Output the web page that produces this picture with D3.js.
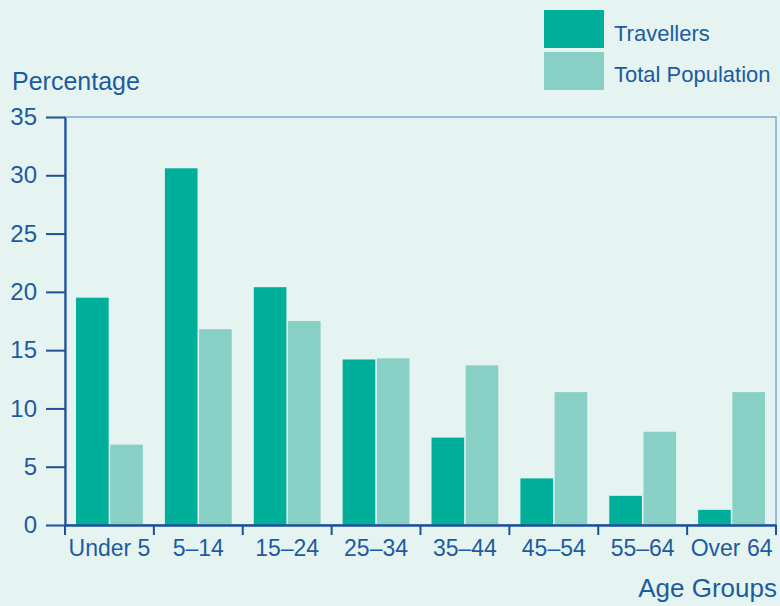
<!DOCTYPE html>
<html>
<head>
<meta charset="utf-8">
<script src="https://cdn.jsdelivr.net/npm/d3@7"></script>
<style>
  body { margin: 0; background: #e5f4f1; }
  svg text { font-family: "Liberation Sans", Arial, sans-serif; fill: #1d5ba0; }
</style>
</head>
<body>
<div id="chart"></div>
<script>
// data
const ageGroups = ["Under 5", "5\u201314", "15\u201324", "25\u201334", "35\u201344", "45\u201354", "55\u201364", "Over 64"];
const travellers = [19.5, 30.6, 20.4, 14.2, 7.5, 4.0, 2.5, 1.3];
const totalPopulation = [6.9, 16.8, 17.5, 14.3, 13.7, 11.4, 8.0, 11.4];
const seriesNames = ["Travellers", "Total Population"];
const yTicks = [0, 5, 10, 15, 20, 25, 30, 35];

const colors = ["#00af9a", "#88d0c6"];

// set the dimensions and margins of the graph
const margin = { top: 117, right: 4, bottom: 81, left: 65 },
    width = 780 - margin.left - margin.right,
    height = 606 - margin.top - margin.bottom;

const svg = d3.select("#chart")
    .append("svg")
    .attr("width", 780)
    .attr("height", 606);

svg.append("rect").attr("width", 780).attr("height", 606).attr("fill", "#e5f4f1");

const g = svg.append("g")
    .attr("transform", `translate(${margin.left},${margin.top})`);

const data = ageGroups.map((a, i) => ({ group: a, values: [travellers[i], totalPopulation[i]] }));

// scales
const x0 = d3.scaleBand().domain(ageGroups).range([0, width]).padding(0);
const x1 = d3.scaleBand().domain(seriesNames)
    .range([x0.bandwidth() * 0.124, x0.bandwidth() * 0.876])
    .paddingInner(0.045);
const y = d3.scaleLinear().domain([0, 35]).range([height, 0]);

// frame (top & right, lighter)
g.append("rect")
    .attr("x", 0).attr("y", 0)
    .attr("width", width).attr("height", height)
    .attr("fill", "none")
    .attr("stroke", "#7fa8d4")
    .attr("stroke-width", 1.5);

// bars
const groups = g.selectAll(".grp")
    .data(data)
    .enter().append("g")
    .attr("transform", d => `translate(${x0(d.group)},0)`);

groups.selectAll("rect")
    .data(d => d.values.map((v, i) => ({ key: seriesNames[i], v: v, i: i })))
    .enter().append("rect")
    .attr("x", d => x1(d.key))
    .attr("width", x1.bandwidth())
    .attr("y", d => y(d.v))
    .attr("height", d => y(0) - y(d.v))
    .attr("fill", d => colors[d.i]);

// Y axis
const yAxis = g.append("g")
    .call(d3.axisLeft(y).tickValues(yTicks).tickSize(19).tickPadding(9).tickSizeOuter(0));
yAxis.select(".domain").attr("stroke", "#1f4f99").attr("stroke-width", 2.2);
yAxis.selectAll(".tick line").attr("stroke", "#1f4f99").attr("stroke-width", 2);
yAxis.selectAll(".tick text").attr("font-size", 24).attr("fill", "#1d5ba0");

// X axis (ticks on group boundaries)
const xAxis = g.append("g")
    .attr("transform", `translate(0,${height})`)
    .call(d3.axisBottom(x0).tickSize(0).tickPadding(15));
xAxis.select(".domain").attr("stroke", "#1f4f99").attr("stroke-width", 2.5);
xAxis.selectAll(".tick text").attr("font-size", 23).attr("fill", "#1d5ba0");

const bounds = ageGroups.map(a => x0(a)).concat([width]);
xAxis.selectAll(".bound")
    .data(bounds)
    .enter().append("line")
    .attr("x1", d => d).attr("x2", d => d)
    .attr("y1", 0).attr("y2", 10)
    .attr("stroke", "#1f4f99")
    .attr("stroke-width", 2);

// axis titles
svg.append("text")
    .attr("x", 12).attr("y", 90)
    .attr("font-size", 25)
    .text("Percentage");

svg.append("text")
    .attr("x", 777).attr("y", 597)
    .attr("text-anchor", "end")
    .attr("font-size", 26)
    .text("Age Groups");

// legend
const legend = svg.append("g").attr("transform", "translate(544,10)");
seriesNames.forEach((s, i) => {
    legend.append("rect")
        .attr("x", 0).attr("y", i * 42)
        .attr("width", 60).attr("height", 38)
        .attr("fill", colors[i]);
    legend.append("text")
        .attr("x", 70).attr("y", i * 41 + 31)
        .attr("font-size", 22)
        .text(s);
});
</script>
</body>
</html>
